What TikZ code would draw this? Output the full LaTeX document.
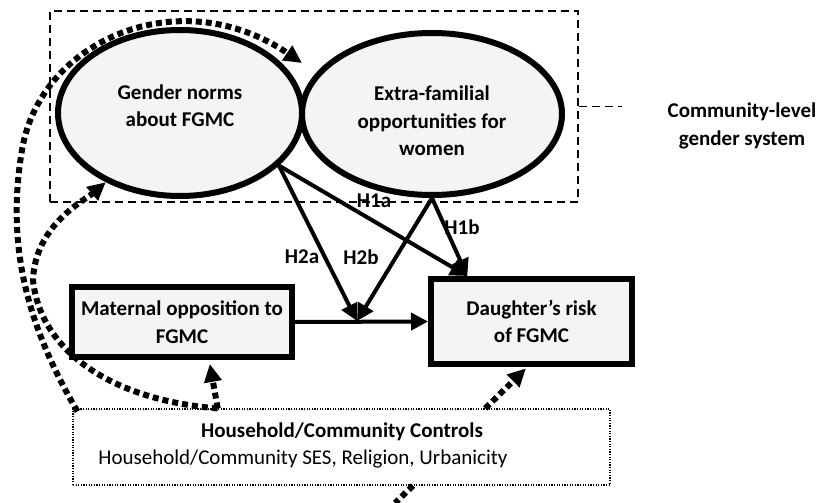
\documentclass[tikz,border=0pt]{standalone}
\usepackage{fontspec}
\setmainfont{Carlito}
\usetikzlibrary{arrows.meta,calc,shapes.geometric}

\definecolor{boxgray}{RGB}{244,244,244}
\newcommand{\figfont}{\fontsize{21}{27.5}\selectfont}

\tikzset{
  construct/.style={ellipse,draw,line width=6pt,fill=boxgray,inner sep=0pt,
    align=center,font=\figfont\bfseries},
  measure/.style={rectangle,draw,line width=6pt,fill=boxgray,inner sep=2pt,
    align=center,font=\figfont\bfseries},
  hyp/.style={line width=4pt,-{Triangle[length=17pt,width=17pt]}},
  ctrl/.style={line width=6pt,dash pattern=on 6pt off 4pt,
    -{Triangle[length=18pt,width=17pt]}},
  hlabel/.style={font=\figfont\bfseries,inner sep=1pt}
}

\begin{document}
\begin{tikzpicture}[x=1pt,y=-1pt]
\useasboundingbox (0,0) rectangle (820,503);
% community-level box
\node[draw,line width=1.5pt,dash pattern=on 8pt off 5pt,minimum width=528pt,
  minimum height=191pt,inner sep=0pt] (gsys) at (314,106.5) {};
\node[font=\figfont\bfseries,align=center] (gsyslbl) at (742,126)
  {Community-level\\gender system};
\draw[line width=1.5pt,dash pattern=on 8pt off 5pt,shorten >=42pt]
  (gsys.east) -- (gsys.east -| gsyslbl.west);
% constructs
\node[construct,minimum width=244pt,minimum height=166pt] (norms) at (180,113)
  {Gender norms\\about FGMC\rule[-15pt]{0pt}{15pt}};
\node[construct,minimum width=260pt,minimum height=162pt] (opps) at (432,114)
  {\rule{0pt}{29pt}Extra-familial\\opportunities for\\women};
\node[measure,minimum width=220pt,minimum height=70pt] (maternal) at (182,322)
  {Maternal opposition to\\FGMC};
\node[measure,minimum width=201pt,minimum height=85pt] (risk) at (531.5,321.5)
  {Daughter’s risk\\of FGMC};
% controls
\node[draw,line width=1.2pt,dash pattern=on 1.2pt off 1.4pt,minimum width=537pt,
  minimum height=76pt,inner sep=0pt] (controls) at (341.5,447) {};
\node[font=\figfont\bfseries] (ctrltitle) at (342,432)
  {Household/Community Controls};
\node[font=\figfont] (ctrllist) at (303,459)
  {Household/Community SES, Religion, Urbanicity};
% hypotheses
\coordinate (mid) at (357,321);
\draw[hyp] (maternal.east) -- (risk.west);
\draw[hyp] (norms.-28) -- (mid);
\draw[hyp] (opps.south) -- (mid);
\draw[hyp] (norms.-28) -- ($(risk.north west)!.19!(risk.north east)$);
\draw[hyp] (opps.south) -- ($(risk.north west)!.19!(risk.north east)$);
\node[hlabel] (h1a) at (374,201) {H1a};
\node[hlabel] (h1b) at (462,227) {H1b};
\node[hlabel] (h2a) at (302,257) {H2a};
\node[hlabel] (h2b) at (361,257) {H2b};
% controls paths
\coordinate (opptip) at (302,63);
\coordinate (cutoff) at (395,503);
\draw[ctrl] ($(controls.north west)+(5,3)$) .. controls (30,330) and (5,250) .. (22,150)
  .. controls (40,40) and (180,-20) .. (opptip);
\draw[ctrl] ($(controls.north west)!.27!(controls.north east)$)
  .. controls (110,400) and (40,350) .. (33,280)
  .. controls (35,225) and (85,200) .. (norms.223);
\draw[ctrl,shorten >=4pt] ($(controls.north west)!.27!(controls.north east)$)
  -- ($(maternal.south west)!.62!(maternal.south east)$);
\draw[ctrl,shorten >=2pt] ($(controls.north west)!.767!(controls.north east)$)
  -- ($(risk.south west)!.48!(risk.south east)$);
\draw[line width=6pt,dash pattern=on 6pt off 4pt]
  ($(controls.south west)!.633!(controls.south east)$) -- (cutoff);
%\node at (742,200) {};
\end{tikzpicture}
\end{document}
